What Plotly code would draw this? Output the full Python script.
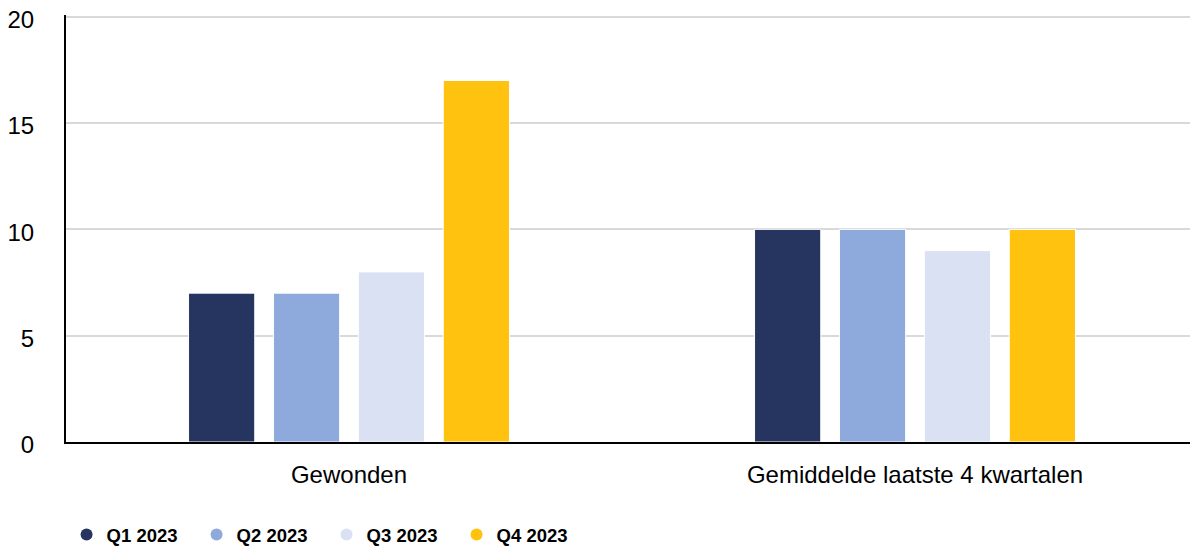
import plotly.graph_objects as go

categories = ["Gewonden", "Gemiddelde laatste 4 kwartalen"]
series_names = ["Q1 2023", "Q2 2023", "Q3 2023", "Q4 2023"]
q1 = [7, 10]
q2 = [7, 10]
q3 = [8, 9]
q4 = [17, 10]
colors = ["#26355f", "#8eaadc", "#dae1f3", "#ffc20e"]

fig = go.Figure()
for name, vals, col in zip(series_names, [q1, q2, q3, q4], colors):
    fig.add_trace(go.Bar(x=categories, y=vals, name=name, marker=dict(color=col, line=dict(color="white", width=1)),
                         showlegend=False))
for name, col in zip(series_names, colors):
    fig.add_trace(go.Scatter(x=[None], y=[None], mode="markers", name=name,
                             marker=dict(color=col, size=12, symbol="circle")))

# page body adds an 8px offset; compensate
fig.update_layout(
    width=1190, height=541,
    margin=dict(l=58, r=0, t=7, b=107, autoexpand=False),
    paper_bgcolor="white", plot_bgcolor="white",
    barmode="group", bargap=0.40, bargroupgap=0.22,
    font=dict(family="Liberation Sans, Arial", size=24, color="#000000"),
    legend=dict(orientation="h", x=0.0005, xanchor="left", y=-(535 - 442) / 427, yanchor="middle",
                font=dict(size=18.5, family="Liberation Sans, Arial", weight="bold"),
                entrywidth=85, entrywidthmode="pixels", itemwidth=30),
)
fig.update_yaxes(range=[0, 20.08], tickvals=[0, 5, 10, 15, 20], showgrid=True, gridcolor="#d9d9d9", gridwidth=1.5,
                 showline=True, linecolor="#000000", linewidth=2, zeroline=False, automargin=False,
                 ticks="", ticklabelstandoff=25, ticklabelshift=3, ticklabeloverflow="allow",
                 tickfont=dict(size=24))
fig.update_xaxes(showline=True, linecolor="#000000", linewidth=2, ticks="", ticklabelstandoff=10,
                 automargin=False, tickfont=dict(size=24))
fig.write_html("out.html")
